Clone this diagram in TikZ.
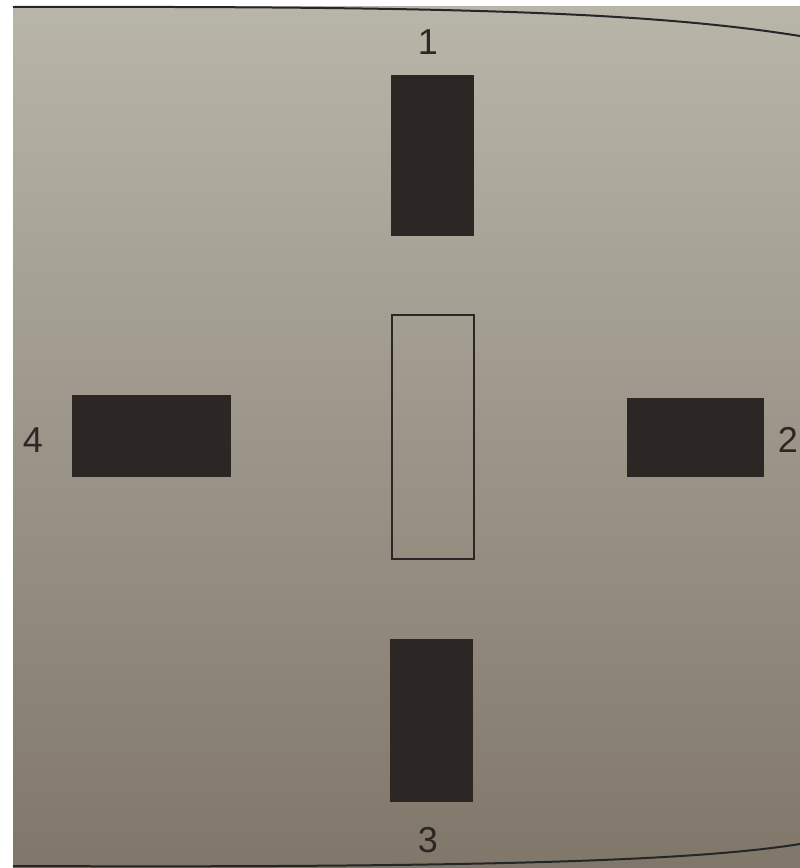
\documentclass[tikz,border=0pt]{standalone}
\usepackage{fontspec}
\setmainfont{Liberation Sans}
\usepackage{xcolor}
\definecolor{pagetop}{RGB}{184,181,169}
\definecolor{pagemid}{RGB}{170,165,151}
\definecolor{pagebot}{RGB}{128,119,106}
\definecolor{inkdark}{RGB}{44,38,36}
\definecolor{edgeline}{RGB}{36,38,40}
\tikzset{
  blk/.style={draw=none,fill=inkdark,inner sep=0pt},
  slot/.style={draw=inkdark,line width=1.8pt,fill=none,inner sep=0pt},
  numlabel/.style={font=\fontsize{36}{36}\selectfont,text=inkdark,inner sep=0pt},
  pageedge/.style={draw=edgeline,line width=2pt}
}
\begin{document}
\begin{tikzpicture}[x=1pt,y=-1pt]
  \useasboundingbox (0,0) rectangle (800,868);
  \fill[white] (0,0) rectangle (800,868);
  % page of the photo
  \shade[top color=pagetop,middle color=pagemid,bottom color=pagebot] (13,6) rectangle (800,868);
  \draw[pageedge] (13,7) .. controls (450,6) and (650,12) .. (800,36);
  \draw[pageedge] (13,866) .. controls (500,868) and (700,860) .. (800,844);
  % dark blocks with their numbers
  \foreach \x/\y/\w/\h/\n/\lx/\ly in {432.5/155.5/83/161/1/428/42,695.5/437.5/137/79/2/788/440,431.5/720.5/83/163/3/428/840,151.5/436/159/82/4/33/440}{
    \node[blk,minimum width=\w pt,minimum height=\h pt] (blk\n) at (\x,\y){};
    \node[numlabel] (num\n) at (\lx,\ly){\n};
  }
  % open slot in the middle
  \node[slot,minimum width=82pt,minimum height=244pt] (slot) at (433,437){};
\end{tikzpicture}
\end{document}
